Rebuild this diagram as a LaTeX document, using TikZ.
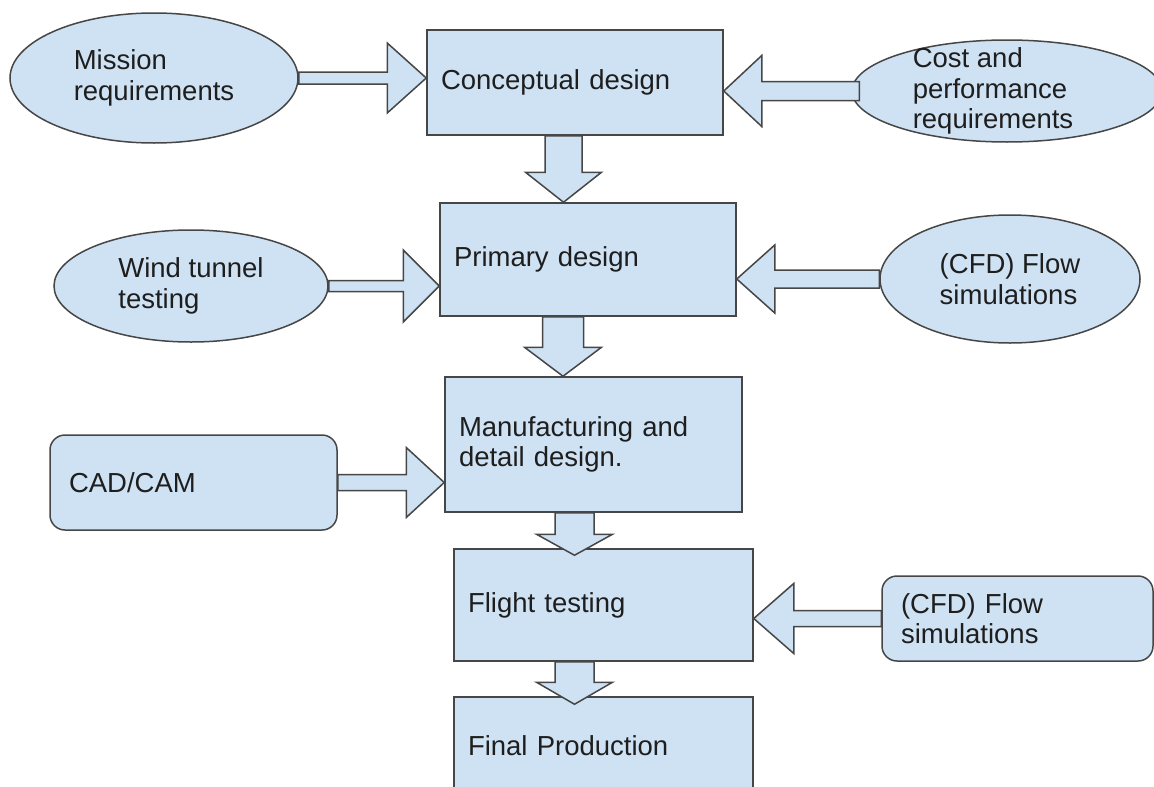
\documentclass[tikz,border=0pt]{standalone}
\usepackage{fontspec}
\setmainfont{Liberation Sans}
\usetikzlibrary{shapes.geometric,calc}
\definecolor{paleblue}{RGB}{207,226,243}
\definecolor{edgegray}{RGB}{70,70,70}
\definecolor{inkgray}{RGB}{30,30,30}
\tikzset{
  every node/.style={font=\fontsize{27.5}{30.5}\selectfont, text=inkgray},
  box/.style={draw=edgegray, fill=paleblue, line width=1.5pt, align=left, inner xsep=14pt, inner ysep=0pt},
  tag/.style={box, rounded corners=15pt, inner xsep=19pt},
  bubble/.style={ellipse, draw=edgegray, fill=paleblue, line width=1.5pt, align=left, inner sep=0pt},
  fat/.style n args={3}{draw=edgegray, fill=paleblue, line width=1.5pt, line join=miter,
    to path={let \p1=(\tikztostart), \p2=(\tikztotarget), \n1={atan2(\y2-\y1,\x2-\x1)}, \n2={veclen(\x2-\x1,\y2-\y1)-#3} in
      [shift={(\p1)}, rotate=\n1] (0pt,{#1*1pt}) -- ({\n2*1pt},{#1*1pt}) -- ({\n2*1pt},{#2*1pt}) -- ({(\n2+#3)*1pt},0pt)
      -- ({\n2*1pt},{-#2*1pt}) -- ({\n2*1pt},{-#1*1pt}) -- (0pt,{-#1*1pt}) -- cycle}}
}
\begin{document}
\begin{tikzpicture}
[x=1pt, y=-1pt]
\useasboundingbox (0,0) rectangle (1154,787);
\clip (0,0) rectangle (1154,787);
% main column
\node [box, text width=268pt, minimum height=105pt] (concept) at (575,82.5) {Conceptual design};
\node [box, text width=268pt, minimum height=113pt] (primary) at (588,259.5) {Primary design};
\node [box, text width=269pt, minimum height=135pt] (manuf) at (593.5,444.5) {Manufacturing and\\detail design.};
\node [box, text width=271pt, minimum height=112pt] (flight) at (603.5,605) {Flight testing};
\node [box, text width=271pt, minimum height=98pt] (final) at (603.5,746) {Final Production};
% inputs
\node [bubble, minimum width=288pt, minimum height=130pt] (mission) at (154,78) {Mission\\requirements};
\node [bubble, minimum width=310pt, minimum height=102pt] (cost) at (1007,91) {};
\node [align=left, inner sep=0pt] (costtext) at (993,91) {Cost and\\performance\\requirements};
\node [bubble, minimum width=274pt, minimum height=112pt] (wind) at (191,286) {Wind tunnel\\testing};
\node [bubble, minimum width=260pt, minimum height=128pt] (cfd) at (1010,279) {(CFD) Flow\\simulations};
\node [tag, text width=249pt, minimum height=95pt] (cad) at (193.5,482.5) {CAD/CAM};
\node [tag, text width=233pt, minimum height=85pt] (cfdbox) at (1017.5,618.5) {(CFD) Flow\\simulations};
% block arrows
\draw [fat={6}{35}{39}] (mission.east) to (mission.east -| concept.west);
\draw [fat={9.5}{35.5}{38}] ($(cost.west)+(8,0)$) to (cost.west -| concept.east);
\draw [fat={5.5}{36}{36}] (wind.east) to (wind.east -| primary.west);
\draw [fat={9}{34}{38}] (cfd.west) to (cfd.west -| primary.east);
\draw [fat={8}{35}{38}] (cad.east) to (cad.east -| manuf.west);
\draw [fat={8}{35}{40}] (cfdbox.west) to (cfdbox.west -| flight.east);
\draw [fat={18.5}{38}{30}] ($(concept.south)+(-11.5,0)$) to ($(concept.south |- primary.north)+(-11.5,0)$);
\draw [fat={20.5}{38.5}{29}] ($(primary.south)+(-25,0)$) to ($(primary.south |- manuf.north)+(-25,0)$);
\draw [fat={19.5}{38}{21}] ($(manuf.south)+(-19,0)$) to ($(manuf.south |- flight.north)+(-19,7)$);
\draw [fat={19.5}{38}{22}] ($(flight.south)+(-29,0)$) to ($(flight.south |- final.north)+(-29,8)$);
\end{tikzpicture}
\end{document}
